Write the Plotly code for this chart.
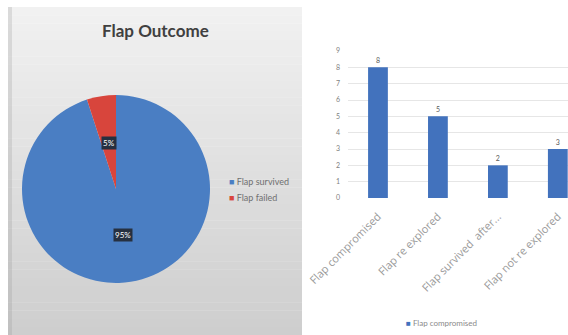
import math
import plotly.graph_objects as go

# Pie data
outcome_labels = ["Flap survived", "Flap failed"]
outcome_values = [95, 5]
outcome_colors = ["#4a7ec3", "#d8453c"]

# Bar data
bar_categories = ["Flap compromised", "Flap re explored", "Flap survived  after...", "Flap not re explored"]
bar_values = [8, 5, 2, 3]
bar_series_name = "Flap compromised"
bar_color = "#4272bd"
y_ticks = list(range(0, 10))

W, H = 568, 335

fig = go.Figure()

# Gray gradient panel behind the pie
top_px, bot_px, left_px, right_px = 7, 335, 8, 302
n_bands = 40
c_top, c_bot = (241, 241, 241), (206, 206, 206)
for i in range(n_bands):
    t = i / (n_bands - 1)
    c = tuple(int(round(a + (b - a) * t)) for a, b in zip(c_top, c_bot))
    y0 = top_px + (bot_px - top_px) * i / n_bands
    y1 = top_px + (bot_px - top_px) * (i + 1) / n_bands
    fig.add_shape(type="rect", xref="paper", yref="paper",
                  x0=left_px / W, x1=right_px / W,
                  y0=1 - y1 / H - 0.001, y1=1 - y0 / H,
                  fillcolor="rgb(%d,%d,%d)" % c, line_width=0, layer="below")
fig.add_shape(type="rect", xref="paper", yref="paper",
              x0=left_px / W, x1=(left_px + 4) / W, y0=0, y1=1 - top_px / H,
              fillcolor="rgba(150,150,150,0.25)", line_width=0, layer="below")

# Pie geometry
cx, cy, R = 116, 189, 94
fig.add_trace(go.Pie(
    labels=outcome_labels, values=outcome_values, sort=False,
    direction="clockwise", rotation=0,
    marker=dict(colors=outcome_colors, line=dict(width=0)),
    textinfo="none", hoverinfo="label+percent",
    domain=dict(x=[(cx - R) / W, (cx + R) / W], y=[(H - cy - R) / H, (H - cy + R) / H]),
    showlegend=False,
))

# Percentage labels with dark boxes, placed at each slice's middle angle
total = sum(outcome_values)
acc = 0
for v in outcome_values:
    mid = (acc + v / 2) / total * 2 * math.pi
    acc += v
    r = 0.5 * R
    px = cx + r * math.sin(mid)
    py = cy - r * math.cos(mid)
    fig.add_annotation(xref="paper", yref="paper", x=px / W, y=1 - py / H,
                       xanchor="center", yanchor="middle",
                       text="%d%%" % round(100 * v / total), showarrow=False,
                       font=dict(family="Lato", size=8, color="white"),
                       bgcolor="#263040", borderpad=1)

fig.add_annotation(xref="paper", yref="paper", x=155 / W, y=1 - 31 / H,
                   xanchor="center", yanchor="middle",
                   text="<b>Flap Outcome</b>", showarrow=False,
                   font=dict(family="Lato", size=17, color="#404040"))

# Pie legend: small square swatches with series names
for i, (lab, col) in enumerate(zip(outcome_labels, outcome_colors)):
    fig.add_annotation(xref="paper", yref="paper", x=227 / W, y=1 - (181 + 16 * i) / H,
                       xanchor="left", yanchor="middle", showarrow=False,
                       text="<span style='color:%s'>■</span> %s" % (col, lab),
                       font=dict(family="Lato", size=9, color="#707070"))

# Bar chart
fig.add_trace(go.Bar(
    x=bar_categories, y=bar_values, name=bar_series_name,
    marker=dict(color=bar_color, line_width=0),
    text=[str(v) for v in bar_values], textposition="outside",
    textfont=dict(family="Lato", size=7, color="#595959"),
    cliponaxis=False, showlegend=False,
))

fig.add_annotation(xref="paper", yref="paper", x=404 / W, y=1 - 323 / H,
                   xanchor="left", yanchor="middle", showarrow=False,
                   text="<span style='color:%s'>■</span> %s" % (bar_color, bar_series_name),
                   font=dict(family="Lato", size=8, color="#8a8a8a"))

fig.update_layout(
    width=W, height=H, margin=dict(l=0, r=0, t=0, b=0),
    paper_bgcolor="white", plot_bgcolor="white",
    font=dict(family="Lato", color="#595959"),
    bargap=0.67,
    xaxis=dict(domain=[348 / W, 1.0], range=[-0.5, 3.17], tickangle=-45,
               showgrid=False, showline=False, ticks="", automargin=False,
               ticklabelstandoff=9,
               tickfont=dict(family="Open Sans", size=11, color="#9a9a9a")),
    yaxis=dict(domain=[(H - 198) / H, (H - 51) / H], range=[0, 9],
               tickvals=y_ticks, showgrid=True, gridcolor="#e6e6e6", gridwidth=1,
               zeroline=False, showline=False, ticks="", automargin=False,
               ticklabelstandoff=7,
               tickfont=dict(family="Lato", size=7, color="#7f7f7f")),
)

fig.write_html("out.html")
